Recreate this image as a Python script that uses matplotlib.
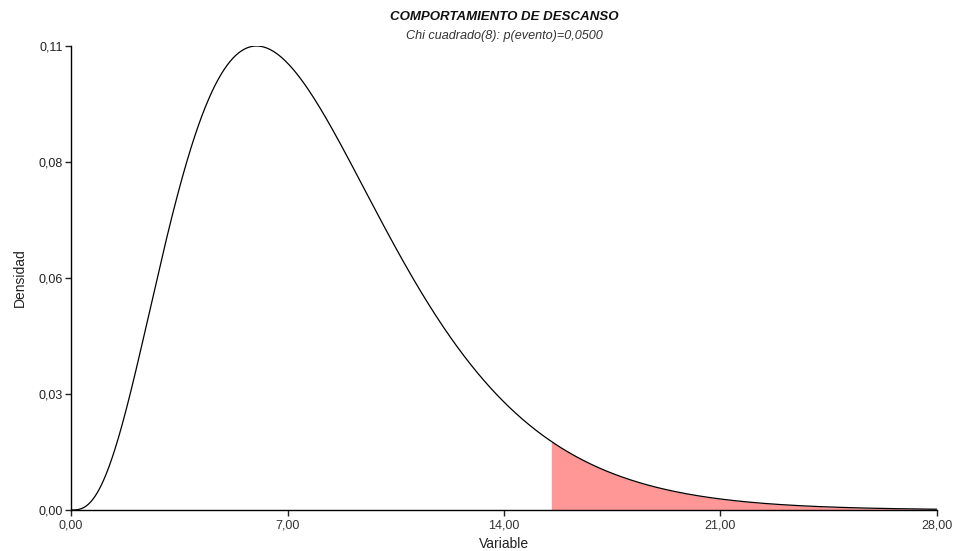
import math
import numpy as np
import matplotlib
matplotlib.use("Agg")
import matplotlib.pyplot as plt

# Chart parameters
title = "COMPORTAMIENTO DE DESCANSO"
subtitle = "Chi cuadrado(8): p(evento)=0,0500"
df = 8
alpha = 0.05
critical_value = 15.507  # chi2(8) upper 5% point
x_ticks = [0, 7, 14, 21, 28]
x_tick_labels = ["0,00", "7,00", "14,00", "21,00", "28,00"]
y_tick_labels = ["0,00", "0,03", "0,06", "0,08", "0,11"]

x = np.linspace(0, 28, 1200)
k = df / 2.0
pdf = x ** (k - 1) * np.exp(-x / 2.0) / (2 ** k * math.gamma(k))
ymax = pdf.max()
y_ticks = [ymax * i / 4 for i in range(5)]

plt.rcParams['font.family'] = ['Liberation Sans', 'DejaVu Sans']
fig = plt.figure(figsize=(9.54, 5.51), dpi=100)
ax = fig.add_axes([71 / 954, 41 / 551, (937 - 71) / 954, (510 - 46) / 551])

mask = x >= critical_value
ax.fill_between(x[mask], 0, pdf[mask], color="#FF9797", linewidth=0)
ax.plot(x, pdf, color="black", linewidth=0.9)

ax.set_xlim(0, 28)
ax.set_ylim(0, ymax)
ax.set_xticks(x_ticks)
ax.set_xticklabels(x_tick_labels)
ax.set_yticks(y_ticks)
ax.set_yticklabels(y_tick_labels)
for s in ["top", "right"]:
    ax.spines[s].set_visible(False)
for s in ["left", "bottom"]:
    ax.spines[s].set_linewidth(1.0)
ax.tick_params(direction="out", length=4, width=1, labelsize=9, colors="#222222", pad=2)
ax.tick_params(axis="x", labelcolor="#333333", pad=3)

ax.set_xlabel("Variable", fontsize=10, labelpad=4, color="#222222")
ax.set_ylabel("Densidad", fontsize=10, labelpad=8, color="#222222")

fig.text((71 + 937) / 2 / 954, 1 - 17 / 551, title, ha="center", va="center",
         fontsize=9.5, fontweight="bold", fontstyle="italic", color="#111111")
fig.text((71 + 937) / 2 / 954, 1 - 36 / 551, subtitle, ha="center", va="center",
         fontsize=9.1, fontstyle="italic", color="#333333")

fig.savefig("out.png", dpi=100)
